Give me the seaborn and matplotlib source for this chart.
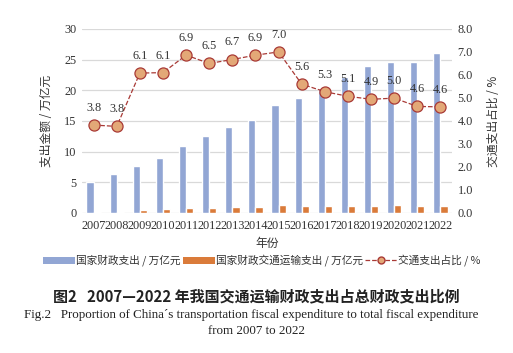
import numpy as np
import pandas as pd
import matplotlib
matplotlib.use("Agg")
import matplotlib.pyplot as plt
import seaborn as sns
from matplotlib.patches import Patch
from matplotlib.lines import Line2D

# 数据
years = [str(y) for y in range(2007, 2023)]
total_exp = [4.98, 6.26, 7.63, 8.97, 10.92, 12.60, 14.02, 15.18,
             17.59, 18.78, 20.33, 22.09, 23.89, 24.56, 24.63, 26.06]
transport_exp = [0.10, 0.16, 0.46, 0.55, 0.75, 0.82, 0.92, 1.00,
                 1.23, 1.05, 1.07, 1.12, 1.18, 1.23, 1.14, 1.20]
ratio = [3.82, 3.76, 6.08, 6.10, 6.86, 6.50, 6.67, 6.86,
         7.00, 5.60, 5.27, 5.07, 4.94, 4.99, 4.63, 4.61]

lab_total = "国家财政支出 / 万亿元"
lab_trans = "国家财政交通运输支出 / 万亿元"
lab_ratio = "交通支出占比 / %"

df = pd.DataFrame({
    "year": years * 2,
    "value": total_exp + transport_exp,
    "series": [lab_total] * len(years) + [lab_trans] * len(years),
})
df_ratio = pd.DataFrame({"year": years, "ratio": ratio})

sns.set_theme(style="white")
serif = ["Liberation Serif", "DejaVu Serif"]
cjk = ["Noto Sans CJK SC", "DejaVu Sans"]
plt.rcParams["font.family"] = serif

blue = "#92A6D4"
orange = "#DA7B3A"
dark_red = "#A93A36"
peach = "#E3A877"
txt = "#333333"

fig = plt.figure(figsize=(5.13, 3.53), dpi=100)
ax = fig.add_axes([0.160, 0.397, 0.721, 0.521])

sns.barplot(data=df, x="year", y="value", hue="series", ax=ax,
            palette=[blue, orange], width=0.62, gap=0, legend=False,
            saturation=1)
ax.set_ylim(0, 30)
ax.set_yticks(range(0, 31, 5))
ax.yaxis.grid(True, color="#D9D9D9", linewidth=0.9)
ax.set_axisbelow(True)
for s in ax.spines.values():
    s.set_visible(False)
ax.tick_params(axis="both", length=0, labelsize=8.8, colors=txt, pad=4)
ax.tick_params(axis="x", pad=5)
ax.set_xlabel("年份", family=cjk, fontsize=8.5, color=txt, labelpad=4)
ax.set_ylabel("支出金额 / 万亿元", family=cjk, fontsize=8.5, color=txt, labelpad=8)

ax2 = ax.twinx()
sns.pointplot(data=df_ratio, x="year", y="ratio", ax=ax2, color=dark_red,
              linestyles="--", markers="o", markersize=8, linewidth=0.9,
              markerfacecolor=peach, markeredgecolor=dark_red,
              markeredgewidth=0.9)
ax2.set_ylim(0, 8)
ax2.set_yticks(np.arange(0, 8.1, 1))
ax2.set_yticklabels([f"{v:.1f}" for v in np.arange(0, 8.1, 1)])
for s in ax2.spines.values():
    s.set_visible(False)
ax2.tick_params(axis="y", length=0, labelsize=8.8, colors=txt, pad=4)
ax2.set_ylabel(lab_ratio, family=cjk, fontsize=8.5, color=txt, labelpad=10)
ax2.set_xlabel("")

for i, r in enumerate(ratio):
    ax2.annotate(f"{r:.1f}", (i, r), xytext=(0, 8), textcoords="offset points",
                 ha="center", va="bottom", fontsize=8.8, color=txt)

handles = [
    Patch(facecolor=blue, edgecolor="none"),
    Patch(facecolor=orange, edgecolor="none"),
    Line2D([], [], color=dark_red, linestyle="--", linewidth=0.9, marker="o",
           markersize=5, markerfacecolor=peach, markeredgecolor=dark_red),
]
fig.legend(handles, [lab_total, lab_trans, lab_ratio], loc="center",
           bbox_to_anchor=(0.51, 0.262), ncol=3, frameon=False,
           prop={"family": cjk, "size": 7.7}, handlelength=3.0,
           handleheight=0.6, columnspacing=0.2, handletextpad=0.1,
           labelcolor=txt)

fig.text(0.5, 0.160, "图2   2007—2022 年我国交通运输财政支出占总财政支出比例",
         ha="center", va="center", family=cjk, fontsize=10.8,
         fontweight="bold", color="#222222")
fig.text(0.49, 0.107, "Fig.2   Proportion of China´s transportation fiscal expenditure to total fiscal expenditure",
         ha="center", va="center", fontsize=9.4, color="#222222")
fig.text(0.5, 0.062, "from 2007 to 2022", ha="center", va="center",
         fontsize=9.4, color="#222222")

fig.savefig("out.png", dpi=100, facecolor="white")
